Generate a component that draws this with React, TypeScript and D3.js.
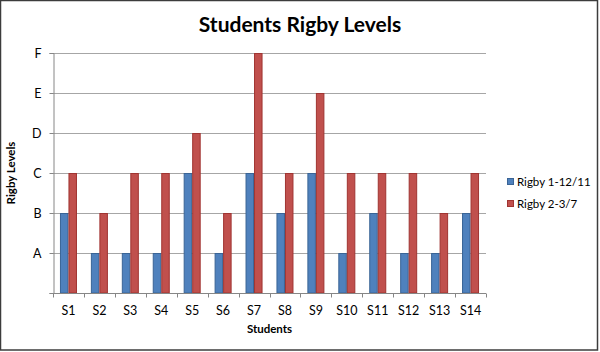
import { useEffect, useRef } from 'react';
import * as d3 from 'd3';

const students = ['S1', 'S2', 'S3', 'S4', 'S5', 'S6', 'S7', 'S8', 'S9', 'S10', 'S11', 'S12', 'S13', 'S14'];
const levelLabels = ['A', 'B', 'C', 'D', 'E', 'F'];
const seriesNames = ['Rigby 1-12/11', 'Rigby 2-3/7'];
// levels: 1 = A ... 6 = F
const rigby1 = [2, 1, 1, 1, 3, 1, 3, 2, 3, 1, 2, 1, 1, 2];
const rigby2 = [3, 2, 3, 3, 4, 2, 6, 3, 5, 3, 3, 3, 2, 3];

const fills = ['#4F81BD', '#C0504D'];
const strokes = ['#3A6496', '#A03431'];
const font = 'Lato, "Open Sans", sans-serif';

export default function App() {
  const ref = useRef<SVGSVGElement | null>(null);
  useEffect(() => {
    const svg = d3.select(ref.current!);
    svg.selectAll('*').remove();
    const W = 600, H = 352;
    const margin = { top: 53, left: 53, right: 114, bottom: 59 };
    const iw = W - margin.left - margin.right;
    const ih = H - margin.top - margin.bottom;

    svg.append('rect').attr('x', 0.5).attr('y', 0.5).attr('width', W - 3).attr('height', H - 2.5)
      .attr('fill', 'white').attr('stroke', '#3c3c3c').attr('stroke-width', 1.5);

    const g = svg.append('g').attr('transform', `translate(${margin.left},${margin.top})`);
    const x = d3.scaleBand<string>().domain(students).range([0, iw]).paddingInner(0.45).paddingOuter(0.225);
    const x1 = d3.scaleBand<number>().domain([0, 1]).range([0, x.bandwidth()]);
    const y = d3.scaleLinear().domain([0, levelLabels.length]).range([ih, 0]);

    // gridlines
    g.selectAll('.grid').data(d3.range(1, levelLabels.length + 1)).enter().append('line')
      .attr('x1', 0).attr('x2', iw).attr('y1', (d) => Math.round(y(d)) + 0.5).attr('y2', (d) => Math.round(y(d)) + 0.5)
      .attr('stroke', '#a6a6a6').attr('stroke-width', 1);

    // y axis
    g.append('g').attr('transform', 'translate(0.5,0)')
      .call(d3.axisLeft(y).tickValues(d3.range(0, levelLabels.length + 1)).tickSize(4).tickPadding(8)
        .tickFormat((d) => (Number(d) === 0 ? '' : levelLabels[Number(d) - 1])))
      .call((s) => s.select('.domain').attr('stroke', '#868686'))
      .call((s) => s.selectAll('.tick line').attr('stroke', '#868686'))
      .selectAll('text').attr('font-size', 12.5).attr('fill', '#000').attr('font-family', font);

    // bars
    const series = [rigby1, rigby2];
    series.forEach((vals, si) => {
      g.selectAll(`.bar${si}`).data(vals).enter().append('rect')
        .attr('x', (_, i) => (x(students[i]) ?? 0) + (x1(si) ?? 0) + 0.5)
        .attr('y', (d) => y(d) + 0.5)
        .attr('width', x1.bandwidth() - 1)
        .attr('height', (d) => ih - y(d) - 0.5)
        .attr('fill', fills[si]).attr('stroke', strokes[si]).attr('stroke-width', 1);
    });

    // x axis with ticks between categories
    const xa = g.append('g').attr('transform', `translate(0,${ih + 0.5})`);
    xa.append('line').attr('x1', 0).attr('x2', iw).attr('stroke', '#868686');
    const step = x.step();
    xa.selectAll('.tk').data(d3.range(students.length + 1)).enter().append('line')
      .attr('x1', (d) => Math.round(d * step) + 0.5).attr('x2', (d) => Math.round(d * step) + 0.5)
      .attr('y1', 0).attr('y2', 4).attr('stroke', '#868686');
    xa.selectAll('text').data(students).enter().append('text')
      .attr('x', (d) => (x(d) ?? 0) + x.bandwidth() / 2).attr('y', 21)
      .attr('text-anchor', 'middle').attr('font-size', 12.5).attr('font-family', font).text((d) => d);

    // titles
    svg.append('text').attr('x', 300).attr('y', 32).attr('text-anchor', 'middle')
      .attr('font-size', 21).attr('font-weight', 'bold').attr('font-family', font).text('Students Rigby Levels');
    svg.append('text').attr('x', margin.left + iw / 2).attr('y', 333).attr('text-anchor', 'middle')
      .attr('font-size', 11.5).attr('font-weight', 'bold').attr('font-family', font).text('Students');
    svg.append('text').attr('transform', `translate(15,${margin.top + ih / 2}) rotate(-90)`).attr('text-anchor', 'middle')
      .attr('font-size', 11.5).attr('font-weight', 'bold').attr('font-family', font).text('Rigby Levels');

    // legend
    const lg = svg.append('g').attr('transform', 'translate(507,178)');
    seriesNames.forEach((name, i) => {
      const row = lg.append('g').attr('transform', `translate(0,${i * 22})`);
      row.append('rect').attr('x', 0.5).attr('y', 0.5).attr('width', 6).attr('height', 6)
        .attr('fill', fills[i]).attr('stroke', strokes[i]);
      row.append('text').attr('x', 10).attr('y', 8).attr('font-size', 11.5).attr('font-family', font).text(name);
    });
  }, []);
  return <svg ref={ref} width={600} height={352} style={{ position: 'absolute', left: 0, top: 0 }} />;
}
